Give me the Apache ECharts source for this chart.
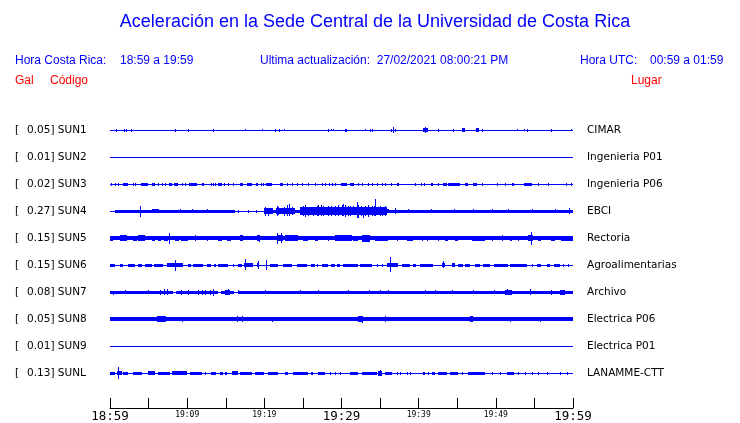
<!DOCTYPE html>
<html><head><meta charset="utf-8">
<script src="https://cdn.jsdelivr.net/npm/echarts@6/dist/echarts.min.js"></script>
<style>html,body{margin:0;padding:0;background:#fff}#c{width:740px;height:423px}</style>
</head><body><div id="c"></div>
<script>
// ---------- data ----------
const stations = ['SUN1','SUN2','SUN3','SUN4','SUN5','SUN6','SUN7','SUN8','SUN9','SUNL'];
const peakGal = ['0.05','0.01','0.02','0.27','0.15','0.15','0.08','0.05','0.01','0.13'];
const places = ['CIMAR','Ingenieria P01','Ingenieria P06','EBCI','Rectoria','Agroalimentarias','Archivo','Electrica P06','Electrica P01','LANAMME-CTT'];
const tickLabels = ['18:59','','19:09','','19:19','','19:29','','19:39','','19:49','','19:59'];
const majorLabels = ['18:59','19:29','19:59'];
// background (noise) half-amplitude of each trace, display units
const baseAmp = [0.5,0.5,0.5,0.5,2,0.5,0.5,2,0.5,0.5];
// events: [startMin, endMin, upAmp, downAmp?]
const sun1 = [[0.73,0.73,1.5],[1.86,1.86,1.5],[2.07,2.07,1.5],[2.72,2.72,1.5],[8.47,8.47,1.5],[10.15,10.15,1.5],[13.39,13.39,1.5],[17.5,17.5,1,0.5],[19.66,19.66,1,0.5],[21.38,21.38,1.5],[21.95,21.95,1.5],[22.6,22.6,1],[24.3,24.3,0.5,1],[28.3,28.3,1.5],[28.7,28.7,1],[28.9,28.9,1],[30.4,30.4,1.5],[30.6,30.6,1.5],[33.0,33.0,1,0.5],[33.7,33.7,1.5],[33.9,33.9,1.5],[36.4,36.4,1.5],[36.7,36.7,2.7],[36.9,36.9,1.5],[40.6,41.2,2],[40.85,40.85,2.7],[42.55,42.55,1.5],[44.5,44.5,1.5],[45.6,46.0,1.7],[47.4,47.8,1.7],[48.25,48.25,1.5],[52.8,52.8,1],[53.7,53.7,1],[54.1,54.1,1.5],[57.2,57.2,1.5],[59.75,59.75,1]];
const sun2 = [];
const sun3 = [[0.13,0.13,1.5],[0.65,0.65,1.5],[1.08,1.08,1.5],[1.73,2.29,1.5],[3.02,3.02,1.5],[3.24,3.24,1.5],[3.97,4.88,1.5],[5.4,5.83,1.5],[6.26,6.26,1.5],[6.7,6.7,1.5],[7.13,7.13,1.5],[7.65,7.99,1.5],[8.34,8.86,1.5],[9.37,9.37,1.5],[9.72,9.72,1.5],[10.28,11.23,1.5],[11.88,12.14,1.5],[13.05,13.05,1.5],[13.39,13.39,1.5],[13.6,13.6,1.5],[14.04,14.47,1.5],[14.82,14.82,1.5],[15.25,15.25,1.5],[15.98,15.98,1.5],[16.85,17.28,1.5],[17.71,18.36,1.5],[18.88,19.22,1.5],[19.53,19.53,1.5],[19.87,19.87,1.5],[20.22,20.95,1.5],[22.03,22.46,1.5],[22.9,22.9,1.5],[23.54,23.54,1.5],[24.19,24.19,1.5],[24.84,24.84,1.5],[25.7,25.7,1.5],[26.57,26.57,1.5],[27.43,27.43,1.5],[27.86,27.86,1.5],[28.38,28.38,1.5],[28.73,28.73,1.5],[29.16,29.16,1.5],[29.94,30.67,1.5],[31.1,31.67,1.5],[32.18,32.18,1.5],[32.62,32.62,1.5],[33.48,33.48,1.5],[33.91,33.91,1.5],[34.56,34.56,1.5],[35.21,35.21,1.5],[35.64,35.64,1.5],[36.42,36.42,1.5],[37.15,37.45,1.5],[39.53,39.53,1.5],[40.31,40.31,1.5],[40.74,40.74,1.5],[41.6,41.9,1.5],[42.47,42.47,1.5],[43.2,43.63,1.5],[43.85,45.36,1.5],[46.01,46.44,1.5],[47.09,47.52,1.5],[48.17,48.17,1.5],[50.11,50.11,1.5],[51.19,51.19,1.5],[52.06,52.4,1.5],[53.7,54.73,1.5],[55.51,55.51,1.5],[56.72,56.72,1.5],[59.05,59.05,1.5],[59.75,59.75,1.5]];
const sun4 = [[0.6,16.2,1.5],[16.6,16.6,1.5],[17.9,17.9,1.5],[18.9,18.9,1.5],[19.9,60,1.5],[3.89,3.89,5,5.7],[5.4,6.3,2.3],[9.07,9.07,2.3],[10.67,10.67,2.3],[12.53,12.53,2],
[19.96,21.08,3.3],[21.51,23.98,3.3],[24.62,35.86,3.8],[35.86,36.2,2],
[20.1,20.2,4.5],[20.5,20.6,3.5,4.5],[21.6,21.7,5.3],[21.8,21.9,4],[22.6,22.7,4.5],[22.9,23.0,6,5],[23.24,23.3,7.3,5],[23.6,23.7,4],[25.06,25.15,5],[25.3,25.4,6],[25.7,25.8,4.5],[26.35,26.45,4.5],[26.8,26.9,5],[27.0,27.1,6,5],[27.3,27.4,6,4.5],[27.65,27.75,5],[28.3,28.4,4.7],[28.6,28.7,5],[29.16,29.26,5],[29.6,29.7,6,5],[30.0,30.1,6.3,5],[30.2,30.3,7.3,5],[30.46,30.56,6],[30.8,30.9,5],[31.1,31.2,5],[31.5,31.6,5,4],[31.97,32.05,8.7,6.7],[32.2,32.3,6,6.7],[32.5,32.6,5],[32.8,32.9,4,7.3],[33.1,33.2,5],[33.48,33.58,6],[33.9,34.0,5],[34.2,34.3,5],[34.39,34.45,12.3,5],[34.7,34.8,4],[35.0,35.1,5.3],[35.3,35.4,4.5],[35.64,35.74,5],
[36.94,36.94,2.7],[38.6,38.6,2],[40.2,40.3,1.5],[41.6,41.6,2],[44.6,44.6,2.3],[47.1,47.1,2.3],[49.5,49.5,2.3],[51.6,51.6,2.3],[54.7,54.7,2.3],[57.7,57.7,2.3],[59.5,59.5,2.7]];
const sun5 = [[0,0.43,2.5],[1.3,2.16,2.7],[3.02,3.46,2.5],[3.67,4.54,2.7],[5.4,5.83,2.5],[6.18,6.61,2.5],[7.04,7.56,2.5],[7.65,7.7,5,6],[8.42,8.95,2.5],[9.2,10.15,2.5],[11.02,11.02,3],[12.53,12.53,2.5],[14.04,14.47,2.5],[15.12,15.68,2.5],[16.85,17.28,3],[19.0,19.44,3],[19.3,19.3,3.5],[21.6,21.6,4.7,5.7],[21.8,22.46,3],[22.1,22.1,5],[22.68,24.4,2.7],[25.06,25.7,2.5],[26.57,27.0,2.5],[28.2,28.2,2.5],[29.16,31.32,2.7],[31.54,32.18,2.5],[32.6,33.7,3,3.7],[34.34,36.07,2.5],[37.15,37.37,2.5],[38.45,39.31,2.5],[40.4,40.4,2.5],[41.04,41.04,2.5],[42.55,42.55,2.5],[43.4,43.85,2.5],[44.7,45.14,2.5],[46.87,48.6,2.5],[49.46,49.46,2.5],[50.76,50.98,3],[51.84,52.14,2.5],[52.92,52.92,2.5],[54.2,54.8,3],[54.52,54.6,6.3,6.7],[55.5,55.9,2.5],[57.2,57.7,2.5],[58.5,60,2.5]];
const sun6 = [[0,0.65,1.5],[1.3,1.73,1.5],[2.38,3.24,1.5],[3.67,4.1,1.5],[4.54,5.4,1.5],[5.75,6.91,1.5],[7.34,9.5,2],[8.47,8.5,5.3,6],[10.07,10.5,1.5],[10.8,12.1,1.5],[12.53,13.1,1.5],[13.5,13.8,1.5],[14.04,15.34,1.5],[16.0,16.0,1.5],[16.6,17.06,1.5],[17.4,18.58,2],[17.54,17.6,6,5.3],[19.0,19.3,2],[19.14,19.14,4],[20.17,20.2,4.7],[20.7,21.8,1.5],[22.46,23.54,1.5],[24.2,25.5,1.5],[26.1,26.6,1.5],[26.8,27.0,1.5],[27.5,28.3,1.5],[28.7,29.1,1.5],[29.4,29.8,1.5],[30.2,32.2,1.5],[32.4,33.9,1.5],[34.56,34.56,1.5],[35.2,35.4,1.5],[35.86,37.37,2],[36.33,36.4,7.7,6.7],[37.8,38.88,1.5],[39.3,39.7,1.5],[40.2,41.9,1.5],[43.0,43.4,2],[43.1,43.1,3.7,3],[44.3,44.7,2.3],[45.06,45.8,1.5],[46.0,46.66,1.5],[47.3,47.95,1.5],[48.4,49.25,1.5],[49.7,51.6,1.5],[51.84,54.0,1.5],[54.65,54.65,1.5],[55.3,55.9,1.5],[56.6,57.0,1.5],[57.5,58.3,1.5],[58.75,58.75,1.5],[59.3,59.3,1.5]];
const sun7 = [[0,8.2,1.5],[8.55,13.95,1.5],[14.4,16.1,1.5],[16.55,60,1.5],[0.43,0.43,1.5,2.7],[1.94,1.94,2.3],[4.97,4.97,2.3],[6.48,6.48,2.5],[7.04,7.04,3],[7.34,7.34,2.7],[9.2,9.2,2.5,3.3],[10.15,10.15,2.5],[11.45,11.45,2.5],[11.88,11.88,2.5],[12.31,12.31,2.5],[12.96,12.96,2.5],[13.39,13.39,2.7,3.7],[14.9,15.55,2.5],[15.25,15.25,3.3],[16.63,16.63,2],[20.1,20.1,2],[24.6,24.6,2.3],[27.0,27.0,2],[30.9,30.9,2.3],[33.5,33.5,2.3],[35.0,35.0,2],[36.07,36.07,2.3],[40.8,40.8,2.3],[42.1,42.1,2.3],[44.3,44.3,2],[47.1,47.1,2.3],[49.7,49.7,2.3],[51.2,52.1,2.5],[51.5,51.5,3],[54.4,54.6,3.3],[57.2,57.2,2.5],[58.3,59.0,2.5]];
const sun8 = [[6.05,7.2,3],[9.3,9.3,2,2.7],[16.4,16.4,2.7],[17.06,17.28,3],[19.44,19.44,2.3],[20.95,20.95,2.5],[32.2,32.8,3],[32.6,32.6,3.5],[35.64,35.64,3.3],[41.25,41.25,2.3],[42.1,42.1,2.3],[46.66,47.1,3],[51.84,51.84,2.5],[53.35,53.35,2.3],[55.7,55.7,2,3],[58.97,58.97,2.3]];
const sun9 = [[35.0,35.0,0.5,1.3]];
const sunL = [[0,0.65,1.5],[0.86,1.5,2],[1.03,1.13,6.3],[1.73,2.38,1.5],[3.02,4.1,1.5],[4.97,5.83,2.3],[6.26,7.78,1.5],[8.0,9.94,2],[10.37,11.88,1.5],[12.31,12.31,1.5],[13.1,13.8,1.5],[14.26,14.7,1.5],[14.9,15.1,1.5],[15.85,16.63,2.3],[16.85,18.36,1.5],[18.8,19.9,1.5],[20.5,21.8,1.5],[22.7,23.1,1.5],[23.76,25.7,1.5],[26.1,26.35,1.5],[27.0,27.86,1.5],[28.5,28.5,1.5],[29.16,29.16,1.5],[29.8,29.8,1.5],[31.1,32.18,1.5],[32.6,34.56,1.5],[34.78,35.2,2.5],[35.0,35.0,3],[35.64,36.5,1.5],[37.15,37.15,1.5],[37.58,37.58,1.5],[38.45,38.45,1.5],[38.88,38.88,1.5],[40.6,40.8,1.5],[41.25,41.25,1.5],[41.7,42.1,1.5],[42.55,43.63,1.5],[44.06,45.14,1.5],[45.6,45.8,1.5],[46.44,48.6,1.5],[49.46,49.46,1.5],[50.5,50.5,1.5],[51.4,52.3,1.5],[52.92,52.92,1.5],[53.8,53.8,1.5],[54.65,54.65,1.5],[55.5,55.5,1.5],[56.6,56.6,1.5],[58.3,58.5,1.5],[59.2,59.2,1.5]];
const traceEvents = [sun1,sun2,sun3,sun4,sun5,sun6,sun7,sun8,sun9,sunL];

// ---------- layout ----------
const ROW = 27, NROWS = stations.length, YMAX = ROW * NROWS;
const BLUE = '#0000ff', RED = '#ff0000';
const rowBase = r => YMAX - ROW / 2 - ROW * r;

const chart = echarts.init(document.getElementById('c'), null, {renderer: 'canvas'});

function renderItem(params, api) {
  const row = api.value(0), t0 = api.value(1), t1 = api.value(2), up = api.value(3), dn = api.value(4);
  const b = rowBase(row);
  const p0 = api.coord([t0, b + up]);
  const p1 = api.coord([t1, b - dn]);
  let x0 = Math.round(p0[0]), x1 = Math.round(p1[0]);
  if (x1 <= x0) x1 = x0 + 1;
  let y0 = Math.round(p0[1]), y1 = Math.round(p1[1]);
  if (y1 <= y0) y1 = y0 + 1;
  return {type: 'rect', shape: {x: x0, y: y0, width: x1 - x0, height: y1 - y0}, style: {fill: BLUE}};
}

const series = stations.map((s, r) => {
  const data = [[r, 0, 60, baseAmp[r], baseAmp[r]]];
  traceEvents[r].forEach(e => data.push([r, e[0], e[1], e[2], e.length > 3 ? e[3] : e[2]]));
  return {type: 'custom', name: s, xAxisIndex: 0, yAxisIndex: 0, renderItem, data, clip: false, animation: false, silent: true};
});

const hdr = (text, x, y, color, size, align) => ({
  type: 'text', x, y, silent: true,
  style: {text, fill: color, font: `${size}px "Liberation Sans", Arial, sans-serif`, textAlign: align || 'left', textVerticalAlign: 'middle', verticalAlign: 'middle'}
});

const labelFont = '"DejaVu Sans", sans-serif';

chart.setOption({
  animation: false,
  backgroundColor: '#fff',
  grid: [
    {left: 110, width: 463, top: 116.5, height: YMAX},
    {left: 110, width: 463, top: 399, height: 10}
  ],
  xAxis: [
    {gridIndex: 0, type: 'value', min: 0, max: 60, show: false},
    {gridIndex: 1, type: 'value', min: 0, max: 60, interval: 5, position: 'bottom',
     axisLine: {show: true, lineStyle: {color: '#000', width: 1}},
     axisTick: {show: true, inside: true, length: 10, lineStyle: {color: '#000', width: 1}},
     splitLine: {show: false},
     axisLabel: {margin: 2, color: '#000', showMinLabel: true, showMaxLabel: true,
       formatter: v => {
         const t = tickLabels[Math.round(v / 5)] || '';
         if (!t) return '';
         return majorLabels.includes(t) ? `{big|${t}}` : `{small|${t}}`;
       },
       rich: {
         big: {fontFamily: '"DejaVu Sans Mono", monospace', fontSize: 12.5, color: '#000', lineHeight: 13},
         small: {fontFamily: '"DejaVu Sans Mono", monospace', fontSize: 8, color: '#000', lineHeight: 9}
       }}}
  ],
  yAxis: [
    {gridIndex: 0, type: 'value', min: 0, max: YMAX, show: false},
    {gridIndex: 0, type: 'category', data: stations, inverse: true, position: 'left',
     axisLine: {show: false}, axisTick: {show: false}, splitLine: {show: false},
     axisLabel: {margin: 95, align: 'left', color: '#000',
       formatter: (v, i) => `{b|[}{v|${peakGal[i]}] ${v}}`,
       rich: {
         b: {fontFamily: labelFont, fontSize: 10.5, color: '#000', width: 12},
         v: {fontFamily: labelFont, fontSize: 10.5, color: '#000'}
       }}},
    {gridIndex: 0, type: 'category', data: places, inverse: true, position: 'right',
     axisLine: {show: false}, axisTick: {show: false}, splitLine: {show: false},
     axisLabel: {margin: 14, color: '#000', fontFamily: labelFont, fontSize: 10.5}},
    {gridIndex: 1, type: 'value', show: false}
  ],
  graphic: [
    hdr('Aceleración en la Sede Central de la Universidad de Costa Rica', 375, 22, BLUE, 18, 'center'),
    hdr('Hora Costa Rica:', 15, 61, BLUE, 12),
    hdr('18:59 a 19:59', 120, 61, BLUE, 12),
    hdr('Ultima actualización:  27/02/2021 08:00:21 PM', 260, 61, BLUE, 12),
    hdr('Hora UTC:', 580, 61, BLUE, 12),
    hdr('00:59 a 01:59', 650, 61, BLUE, 12),
    hdr('Gal', 15, 81, RED, 12),
    hdr('Código', 50, 81, RED, 12),
    hdr('Lugar', 631, 81, RED, 12)
  ],
  series
});
</script></body></html>
